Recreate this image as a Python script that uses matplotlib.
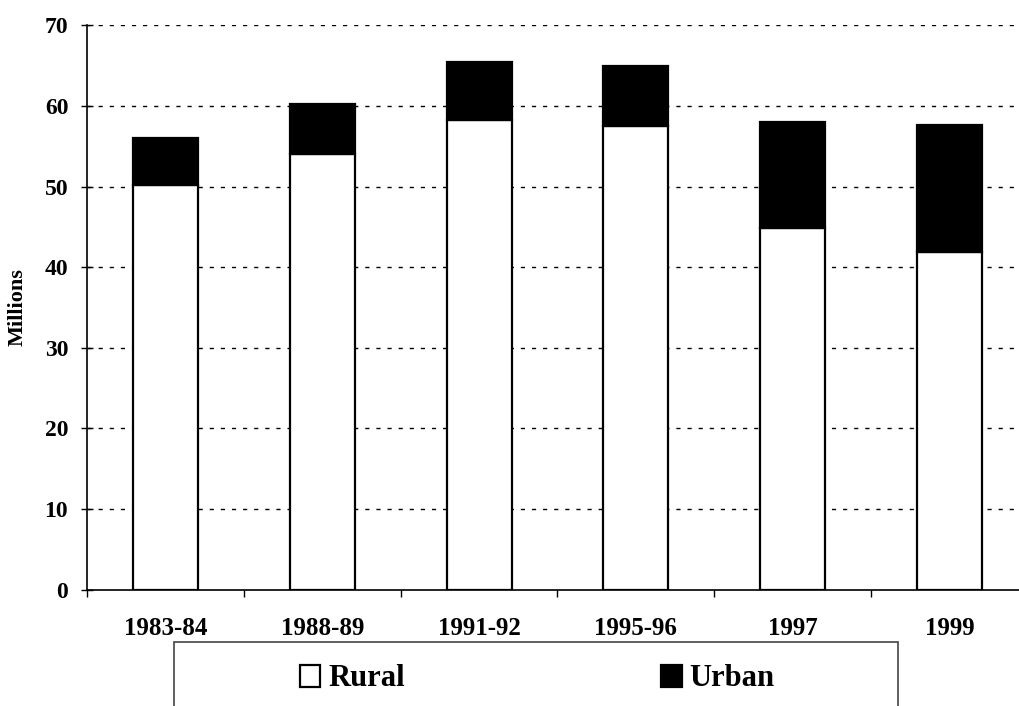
import matplotlib
matplotlib.use("Agg")
import matplotlib.pyplot as plt
from matplotlib.patches import Rectangle
import numpy as np

categories = ["1983-84", "1988-89", "1991-92", "1995-96", "1997", "1999"]
rural = [50.2, 54.0, 58.2, 57.5, 44.9, 41.9]
urban = [5.8, 6.3, 7.3, 7.4, 13.1, 15.7]
yticks = [0, 10, 20, 30, 40, 50, 60, 70]

plt.rcParams['font.family'] = ['Liberation Serif', 'DejaVu Serif']
plt.rcParams['font.weight'] = 'bold'

fig = plt.figure(figsize=(10.19, 7.06), dpi=100)
ax = fig.add_axes([87 / 1019, 1 - 589.7 / 706, 941 / 1019, (589.7 - 25.3) / 706])

x = np.arange(len(categories))
w = 0.415
b1 = ax.bar(x, rural, width=w, color='white', edgecolor='black', linewidth=1.6, label='Rural', zorder=3)
b2 = ax.bar(x, urban, width=w, bottom=rural, color='black', edgecolor='black', linewidth=1.6, label='Urban', zorder=3)

ax.set_xlim(-0.5, len(categories) - 0.5)
ax.set_ylim(0, 70)
ax.set_yticks(yticks)
ax.set_yticklabels([str(v) for v in yticks], fontsize=17, fontweight='bold')
ax.set_xticks(x)
ax.set_xticklabels(categories, fontsize=18, fontweight='bold')
ax.set_xticks(np.arange(-0.5, len(categories), 1.0), minor=True)
ax.tick_params(axis='x', which='major', length=0, pad=20)
ax.tick_params(axis='x', which='minor', length=5, width=1, direction='out')
ax.tick_params(axis='y', which='major', length=9, width=1, direction='inout', pad=9)

for v in yticks[1:]:
    ax.axhline(v, color='black', linestyle=(0, (3, 5)), linewidth=1, zorder=1)

for s in ['top', 'right']:
    ax.spines[s].set_visible(False)
ax.spines['left'].set_linewidth(1.2)
ax.spines['bottom'].set_linewidth(1.2)

ax.set_ylabel('Millions', fontsize=16, fontweight='bold', labelpad=12)

# legend frame
fig.patches.append(Rectangle((174 / 1019, -0.05), 724 / 1019, 0.05 + 1 - 642 / 706,
                             transform=fig.transFigure, facecolor='white',
                             edgecolor='#444444', linewidth=1.2, zorder=0))
leg = fig.legend(handles=[b1, b2], labels=['Rural', 'Urban'], ncol=2, frameon=False,
                 loc='center left', bbox_to_anchor=(300 / 1019, 1 - 679 / 706),
                 prop={'family': 'Liberation Serif', 'weight': 'bold', 'size': 22},
                 handlelength=0.67, handleheight=0.75, handletextpad=0.25,
                 columnspacing=8.4, borderpad=0, borderaxespad=0)

fig.savefig('out.png', dpi=100)
